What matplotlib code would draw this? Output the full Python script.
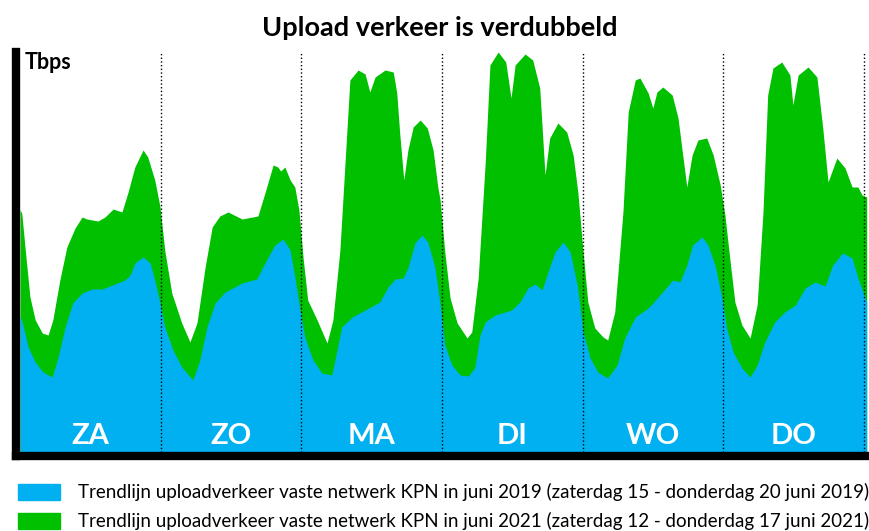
import matplotlib.pyplot as plt
from matplotlib.patches import Rectangle

# hours since saturday 00:00 and traffic level (arbitrary units)
hours_2021 = [0.0, 0.3, 0.9, 1.7, 2.6, 3.8, 4.8, 5.6, 6.8, 8.0, 9.4, 10.6, 11.4, 13.3, 14.5,
              15.9, 17.4, 18.4, 19.6, 21.0, 21.8, 23.0, 23.9, 24.7, 25.9, 27.6, 29.0, 30.2,
              31.6, 32.8, 34.1, 35.5, 36.2, 37.9, 40.6, 41.8, 43.2, 44.0, 44.5, 45.2, 46.1,
              46.9, 47.6, 48.3, 49.1, 50.7, 52.4, 53.4, 54.6, 55.5, 56.3, 57.7, 58.9, 59.7,
              60.6, 62.3, 63.7, 64.3, 64.8, 65.5, 66.2, 67.1, 68.3, 69.5, 70.5, 71.3, 71.7,
              72.5, 73.4, 74.6, 76.3, 77.1, 78.2, 79.4, 80.2, 81.6, 82.9, 83.8, 84.5, 86.2,
              87.5, 88.7, 89.6, 90.4, 91.8, 93.3, 94.4, 95.2, 96.1, 96.9, 98.1, 99.5, 100.3,
              101.5, 102.9, 103.8, 105.0, 105.8, 107.2, 108.0, 108.7, 109.7, 111.3, 112.3,
              113.1, 113.8, 114.7, 115.7, 117.2, 118.3, 119.5, 120.3, 121.2, 122.0, 123.2,
              124.6, 125.8, 126.8, 127.6, 128.5, 130.0, 131.4, 131.9, 132.8, 134.5, 136.0,
              137.0, 137.9, 139.4, 140.8, 142.0, 143.0, 143.7, 144.5]
upload_2021 = [242, 239, 202, 155, 132, 119, 117, 132, 172, 205, 224, 235, 233, 231, 235,
               243, 240, 259, 285, 302, 295, 272, 245, 202, 159, 129, 110, 129,
               185, 225, 236, 240, 238, 233, 236, 259, 287, 285, 281, 285, 272,
               265, 242, 195, 152, 132, 109, 132, 202, 292, 372, 382, 378, 360,
               375, 382, 380, 359, 319, 272, 302, 325, 332, 324, 302, 265, 252,
               200, 154, 129, 114, 120, 174, 290, 387, 400, 390, 354, 387, 398,
               392, 364, 277, 314, 329, 320, 297, 260, 200, 150, 124, 115, 112,
               140, 240, 340, 372, 374, 359, 344, 360, 365, 357, 334,
               297, 265, 297, 312, 314, 297, 267, 237, 190, 150, 127,
               114, 147, 240, 357, 384, 390, 377, 347, 377, 385, 375,
               324, 270, 294, 284, 265, 265, 257, 255]

hours_2019 = [0.0, 0.3, 1.4, 2.6, 3.9, 5.5, 6.5, 7.7, 9.0, 10.6, 12.3, 14.0, 16.2, 17.9,
              18.8, 19.6, 21.0, 22.2, 23.0, 23.9, 24.7, 26.1, 27.6, 29.5, 30.7, 31.9, 33.3,
              35.0, 37.9, 40.4, 41.8, 43.5, 44.9, 46.1, 46.9, 47.8, 48.6, 50.0, 51.5, 53.2,
              54.1, 54.9, 56.7, 58.9, 61.4, 62.8, 64.0, 65.4, 66.2, 67.4, 68.6, 69.6, 70.8,
              71.7, 72.5, 73.7, 75.1, 76.5, 77.6, 78.5, 79.4, 81.1, 83.9, 85.3, 86.7, 87.9,
              89.1, 90.1, 91.3, 92.7, 93.9, 95.1, 96.1, 97.3, 98.6, 100.3, 101.9, 103.2,
              105.0, 107.2, 108.0, 109.2, 111.4, 112.6, 113.8, 114.8, 116.4, 117.4, 118.6,
              119.8, 120.6, 121.7, 123.2, 124.6, 125.8, 127.1, 128.8, 130.5, 132.3, 134.0,
              135.7, 137.4, 138.7, 140.4, 142.0, 143.0, 144.5]
upload_2019 = [135, 132, 105, 90, 80, 75, 95, 125, 149, 159, 163, 163, 168, 172,
               177, 189, 195, 189, 172, 149, 125, 102, 85, 72, 92, 125, 149,
               160, 169, 173, 189, 207, 213, 202, 175, 142, 115, 92, 79, 77,
               102, 125, 135, 142, 150, 165, 173, 174, 184, 209, 217, 210, 185,
               148, 107, 87, 77, 76, 84, 117, 130, 137, 142, 150, 164, 168,
               162, 180, 200, 210, 200, 167, 120, 94, 80, 74, 87, 114,
               135, 144, 149, 157, 172, 170, 187, 207, 215, 207, 187,
               154, 124, 100, 84, 75, 87, 110, 130, 140, 147, 164,
               170, 166, 187, 199, 194, 174, 150]

days = ['ZA', 'ZO', 'MA', 'DI', 'WO', 'DO']
legend_labels = [
    'Trendlijn uploadverkeer vaste netwerk KPN in juni 2019 (zaterdag 15 - donderdag 20 juni 2019)',
    'Trendlijn uploadverkeer vaste netwerk KPN in juni 2021 (zaterdag 12 - donderdag 17 juni 2021)',
]

BLUE = '#00b0f0'
GREEN = '#00c000'

plt.rcParams['font.family'] = ['Lato', 'DejaVu Sans']

fig = plt.figure(figsize=(8.69, 5.31), dpi=100)
ax = fig.add_axes([16 / 869, 1 - 456 / 531, 851 / 869, 404 / 531])

ax.fill_between(hours_2021, upload_2021, color=GREEN, lw=0)
ax.fill_between(hours_2019, upload_2019, color=BLUE, lw=0)

# day boundaries
for d in range(1, 7):
    ax.axvline(24 * d, color='black', ls=':', lw=1.0, zorder=3)

for i, name in enumerate(days):
    ax.text(24 * i + 12, 16, name, color='white', fontsize=21, fontweight='bold',
            ha='center', va='center', zorder=4)

ax.text(0.01, 1.0, 'Tbps', transform=ax.transAxes, fontsize=15.5, fontweight='bold',
        ha='left', va='top')

ax.set_xlim(-0.68, 144.55)
ax.set_ylim(-4, 400)
ax.set_xticks([])
ax.set_yticks([])
for side in ['top', 'right']:
    ax.spines[side].set_visible(False)
for side in ['left', 'bottom']:
    ax.spines[side].set_linewidth(6)
    ax.spines[side].set_color('black')

fig.text(440 / 869, 1 - 28 / 531, 'Upload verkeer is verdubbeld', fontsize=19.5,
         fontweight='bold', ha='center', va='center')

# legend drawn by hand below the plot
for row, (label, col) in enumerate(zip(legend_labels, [BLUE, GREEN])):
    yc = 492 + row * 29
    fig.patches.append(Rectangle((18 / 869, 1 - (yc + 8) / 531), 42 / 869, 16 / 531,
                                 transform=fig.transFigure, color=col))
    fig.text(78 / 869, 1 - yc / 531, label, fontsize=13.5, ha='left', va='center')

plt.savefig('out.png', dpi=100)
